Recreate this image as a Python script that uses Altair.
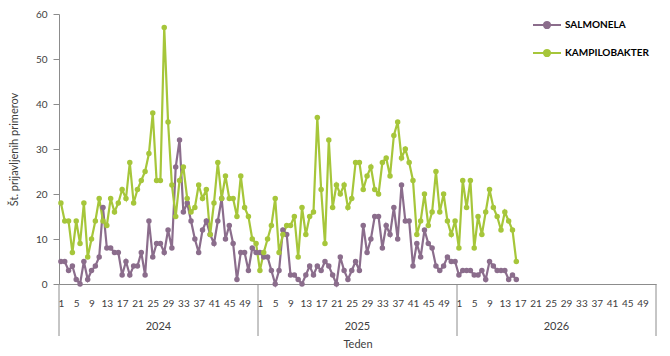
import altair as alt
import pandas as pd

years = [2024, 2025, 2026]
weeks_per_year = 52
series_names = ["SALMONELA", "KAMPILOBAKTER"]
series_colors = ["#8b6d8c", "#a6c63a"]

salmonela_2024 = [5, 5, 3, 4, 1, 0, 5, 1, 3, 4, 6, 17, 8, 8, 7, 7, 2, 5, 2, 4,
                  4, 7, 2, 14, 6, 9, 9, 7, 12, 8, 26, 32, 16, 18, 14, 10, 7, 12, 14, 11,
                  9, 14, 19, 10, 13, 9, 1, 7, 7, 3, 8, 7]
salmonela_2025 = [7, 6, 6, 3, 0, 3, 12, 11, 2, 2, 1, 0, 2, 4, 2, 4, 3, 5, 4, 2,
                  0, 6, 3, 1, 3, 5, 3, 13, 7, 10, 15, 15, 8, 13, 11, 17, 10, 22, 14, 14,
                  4, 9, 6, 12, 9, 8, 4, 3, 4, 6, 5, 5]
salmonela_2026 = [2, 3, 3, 3, 2, 2, 3, 1, 5, 4, 3, 3, 3, 1, 2, 1]

kampilobakter_2024 = [18, 14, 14, 7, 14, 9, 18, 6, 10, 14, 19, 14, 13, 19, 16, 18, 21, 19, 27, 18,
                      21, 23, 25, 29, 38, 23, 23, 57, 36, 22, 15, 23, 26, 19, 16, 17, 22, 19, 21, 11,
                      18, 27, 19, 24, 19, 19, 15, 24, 17, 15, 10, 9]
kampilobakter_2025 = [3, 7, 10, 13, 19, 7, 11, 13, 13, 15, 6, 17, 11, 15, 16, 37, 21, 9, 32, 17,
                      22, 20, 22, 17, 19, 27, 27, 21, 24, 26, 21, 20, 27, 28, 24, 33, 36, 28, 30, 27,
                      23, 11, 14, 20, 13, 16, 25, 16, 20, 14, 11, 14]
kampilobakter_2026 = [8, 23, 17, 23, 8, 15, 11, 16, 21, 17, 15, 12, 16, 14, 12, 5]

week_labels = [1, 5, 9, 13, 17, 21, 25, 29, 33, 37, 41, 45, 49]
y_ticks = [0, 10, 20, 30, 40, 50, 60]

series_data = {
    "SALMONELA": [salmonela_2024, salmonela_2025, salmonela_2026],
    "KAMPILOBAKTER": [kampilobakter_2024, kampilobakter_2025, kampilobakter_2026],
}

rows = []
for name in series_names:
    for yi, yr in enumerate(years):
        for wi, v in enumerate(series_data[name][yi]):
            rows.append({"serija": name, "idx": yi * weeks_per_year + wi,
                         "leto": yr, "teden": wi + 1, "primeri": v})
df = pd.DataFrame(rows)

year_df = pd.DataFrame({
    "leto": [str(y) for y in years],
    "idx": [yi * weeks_per_year + (weeks_per_year - 1) / 2 for yi in range(len(years))],
})
bound_df = pd.DataFrame({
    "idx": [yi * weeks_per_year - 0.5 for yi in range(len(years) + 1)],
})
label_idx = [yi * weeks_per_year + w - 1 for yi in range(len(years)) for w in week_labels]

FONT = "Lato"
TXT = "#404040"
AX = "#8c8c8c"
W, H = 597, 270

xscale = alt.Scale(domain=[-0.5, len(years) * weeks_per_year - 0.5], nice=False, zero=False)
yscale = alt.Scale(domain=[0, 60], nice=False)

x_axis = alt.Axis(values=label_idx, labelExpr="(datum.value % 52) + 1", ticks=False,
                  grid=False, domainColor=AX, labelPadding=14, labelFontSize=10,
                  labelColor=TXT, labelFont=FONT, labelOverlap=False, labelFlush=False,
                  labelSeparation=0,
                  title="Teden", titleFont=FONT, titleFontSize=11, titleFontWeight="normal",
                  titleColor=TXT, titlePadding=30)
y_axis = alt.Axis(values=y_ticks, grid=False, domainColor=AX, tickColor=AX, tickSize=6,
                  labelPadding=6, labelFontSize=10, labelColor=TXT, labelFont=FONT,
                  title="Št. prijavljenih primerov", titleFont=FONT, titleFontSize=11,
                  titleFontWeight="normal", titleColor=TXT, titlePadding=16)

legend_symbol = "M-1,0H1M-0.22,0A0.22,0.22,0,1,1,0.22,0A0.22,0.22,0,1,1,-0.22,0Z"
color = alt.Color("serija:N", scale=alt.Scale(domain=series_names, range=series_colors),
                  sort=series_names,
                  legend=alt.Legend(title=None, orient="none", legendX=473, legendY=-4,
                                    symbolType=legend_symbol, symbolSize=784,
                                    symbolStrokeWidth=2, labelFont=FONT, labelFontSize=10,
                                    labelFontWeight="bold", labelColor="#000000",
                                    labelOffset=3, rowPadding=5))

base = alt.Chart(df).encode(
    x=alt.X("idx:Q", scale=xscale, axis=x_axis),
    y=alt.Y("primeri:Q", scale=yscale, axis=y_axis),
    color=color,
)
lines = base.mark_line(strokeWidth=2.2)
points = base.mark_point(filled=True, size=30, opacity=1)

seps = alt.Chart(bound_df).mark_rule(color=AX, strokeWidth=1).encode(
    x=alt.X("idx:Q", scale=xscale, axis=x_axis), y=alt.value(H), y2=alt.value(H + 52))
year_text = alt.Chart(year_df).mark_text(font=FONT, fontSize=11, color=TXT,
                                          baseline="middle").encode(
    x=alt.X("idx:Q", scale=xscale, axis=x_axis), y=alt.value(H + 43), text="leto:N")

chart = alt.layer(lines, points, seps, year_text).properties(
    width=W, height=H,
    autosize=alt.AutoSizeParams(type="none"),
    padding={"left": 59, "top": 14, "right": 14, "bottom": 72},
    background="white",
).configure_view(stroke=None).configure_axis(labelOverlap=False)

chart.save("out.html", embed_options={"renderer": "svg", "actions": False})
